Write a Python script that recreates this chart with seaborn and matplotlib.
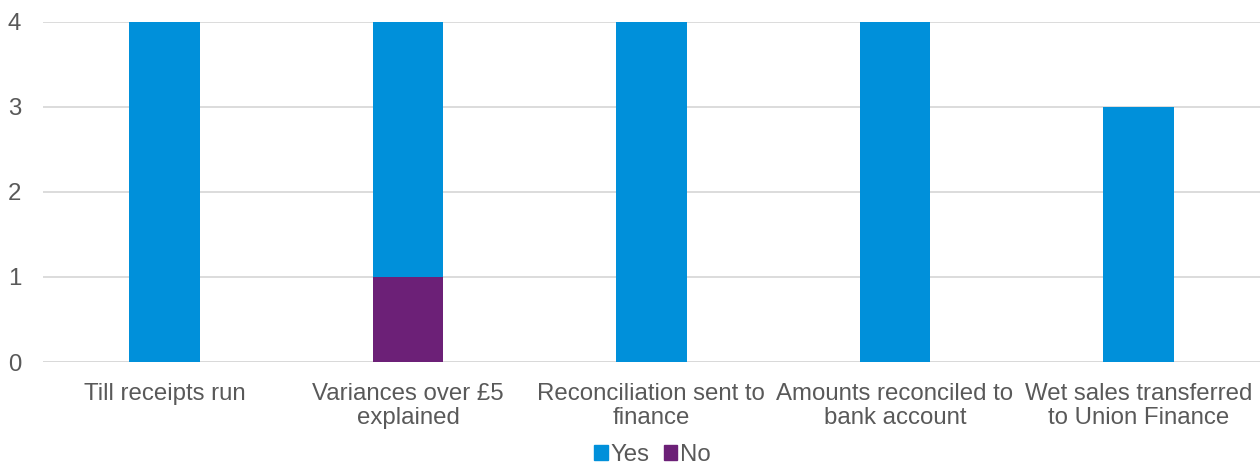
import matplotlib
matplotlib.use("Agg")
import matplotlib.pyplot as plt
import matplotlib.transforms as mtrans
import seaborn as sns
import pandas as pd
from matplotlib.patches import Patch

categories = ["Till receipts run", "Variances over £5\nexplained", "Reconciliation sent to\nfinance",
              "Amounts reconciled to\nbank account", "Wet sales transferred\nto Union Finance"]
yes_values = [4, 4, 4, 4, 3]
no_values = [0, 1, 0, 0, 0]
yticks = [0, 1, 2, 3, 4]

BLUE = "#0090DA"
PURPLE = "#6C2077"
TXT = "#595959"
FS = 17.3

sns.set_theme(style="white")
plt.rcParams['font.family'] = ['Liberation Sans', 'DejaVu Sans']

fig = plt.figure(figsize=(12.6, 4.65), dpi=100)
ax = fig.add_axes([0.034, 0.2215, 0.966, 0.7315])

df_yes = pd.DataFrame({"cat": categories, "val": yes_values})
df_no = pd.DataFrame({"cat": categories, "val": no_values})
sns.barplot(data=df_yes, x="cat", y="val", color=BLUE, width=0.29, saturation=1, ax=ax,
            zorder=2, linewidth=0, edgecolor="none")
sns.barplot(data=df_no, x="cat", y="val", color=PURPLE, width=0.29, saturation=1, ax=ax,
            zorder=3, linewidth=0, edgecolor="none")

ax.set_ylim(0, 4)
ax.set_xlim(-0.5, 4.5)
ax.set_yticks(yticks)
ax.set_yticklabels([str(t) for t in yticks])
ax.yaxis.grid(True, color="#D9D9D9", linewidth=1.3, zorder=0)
ax.set_axisbelow(True)
for s in ax.spines.values():
    s.set_visible(False)
ax.axhline(0, color="#D9D9D9", linewidth=1.3, zorder=1)
ax.set_xlabel("")
ax.set_ylabel("")
ax.tick_params(axis="both", length=0, labelsize=FS, labelcolor=TXT)
ax.tick_params(axis="x", pad=15)
for lab in ax.get_xticklabels():
    lab.set_linespacing(1.1)
for lab in ax.get_yticklabels():
    lab.set_horizontalalignment("left")
    lab.set_transform(mtrans.blended_transform_factory(fig.transFigure, ax.transData))
    lab.set_x(8 / 1260)

handles = [Patch(color=BLUE, label="Yes"), Patch(color=PURPLE, label="No")]
fig.legend(handles=handles, loc="center", bbox_to_anchor=(0.518, 0.022), ncol=2, frameon=False,
           fontsize=FS, labelcolor=TXT, handlelength=0.55, handleheight=0.55, handletextpad=0.12,
           columnspacing=0.6)

fig.savefig("out.png", dpi=100)
